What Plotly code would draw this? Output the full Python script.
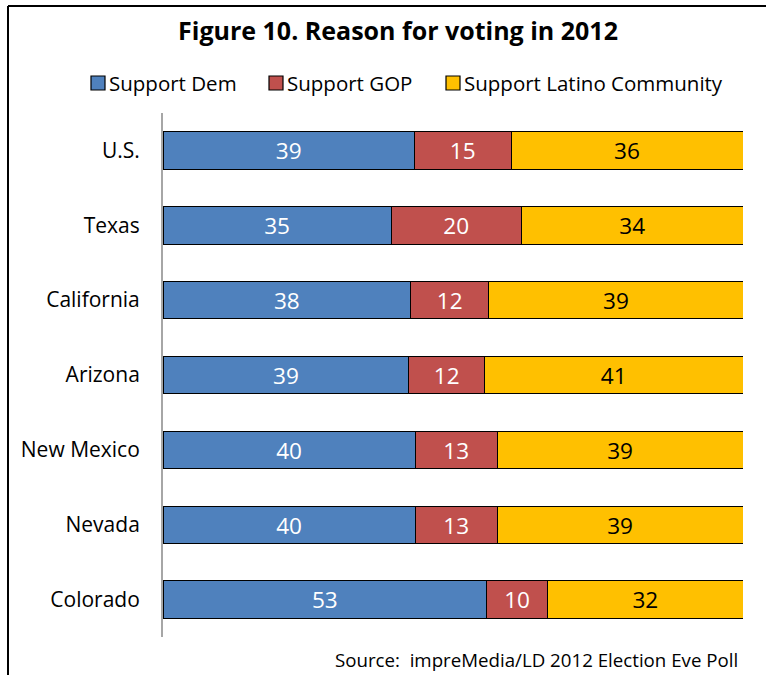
import plotly.graph_objects as go

# Reasons given by Latino voters, by state (percent of respondents)
states = ["U.S.", "Texas", "California", "Arizona", "New Mexico", "Nevada", "Colorado"]
support_dem = [39, 35, 38, 39, 40, 40, 53]
support_gop = [15, 20, 12, 12, 13, 13, 10]
support_latino = [36, 34, 39, 41, 39, 39, 32]
series_names = ["Support Dem", "Support GOP", "Support Latino Community"]

series = [
    (series_names[0], support_dem, "#4F81BD", "white"),
    (series_names[1], support_gop, "#C0504D", "white"),
    (series_names[2], support_latino, "#FFC000", "black"),
]

W, H = 766, 675
L, R, T, B = 163, 23, 113, 38
FONT = "Open Sans"

fig = go.Figure()
for name, vals, color, tcolor in series:
    fig.add_trace(go.Bar(
        name=name,
        y=states,
        x=vals,
        orientation="h",
        marker=dict(color=color, line=dict(color="black", width=1)),
        text=[str(v) for v in vals],
        textposition="inside",
        insidetextanchor="middle",
        textangle=0,
        textfont=dict(family=FONT, size=23, color=tcolor),
        hoverinfo="skip",
        showlegend=False,
    ))

pw = W - L - R
ph = H - T - B


def px_x(x):
    return (x - L) / pw


def px_y(y):
    return 1 - (y - T) / ph


# Outer frame (top and left edges)
shapes = [
    dict(type="line", xref="paper", yref="paper",
         x0=px_x(8), x1=px_x(766), y0=px_y(6), y1=px_y(6),
         line=dict(color="black", width=2)),
    dict(type="line", xref="paper", yref="paper",
         x0=px_x(8), x1=px_x(8), y0=px_y(6), y1=px_y(675),
         line=dict(color="black", width=2)),
]
annotations = [
    dict(text="Source:  impreMedia/LD 2012 Election Eve Poll",
         xref="paper", yref="paper", x=px_x(740), y=px_y(659),
         xanchor="right", yanchor="middle", showarrow=False,
         font=dict(family=FONT, size=18.7)),
]

# Legend row: coloured key squares followed by the series name
legend_left = [91, 269, 446]
for (name, _, color, _), lx in zip(series, legend_left):
    shapes.append(dict(
        type="rect", xref="paper", yref="paper",
        x0=px_x(lx), x1=px_x(lx + 14), y0=px_y(90), y1=px_y(76),
        fillcolor=color, line=dict(color="black", width=1.2),
    ))
    annotations.append(dict(
        text=name, xref="paper", yref="paper",
        x=px_x(lx + 16), y=px_y(83), xanchor="left", yanchor="middle",
        showarrow=False, font=dict(family=FONT, size=20.5, color="black"),
    ))

fig.update_layout(
    width=W,
    height=H,
    margin=dict(l=L, r=R, t=T, b=B, autoexpand=False),
    barmode="stack",
    barnorm="percent",
    bargap=0.5,
    plot_bgcolor="white",
    paper_bgcolor="white",
    font=dict(family=FONT, color="black"),
    showlegend=False,
    title=dict(
        text="<b>Figure 10. Reason for voting in 2012</b>",
        x=398 / W, xref="container", xanchor="center",
        y=1 - 31 / H, yref="container", yanchor="middle",
        font=dict(family=FONT, size=25, color="black"),
    ),
    xaxis=dict(range=[0, 100], visible=False, fixedrange=True),
    yaxis=dict(
        categoryorder="array",
        categoryarray=states,
        autorange="reversed",
        showline=True,
        linecolor="#A6A6A6",
        linewidth=2,
        showgrid=False,
        ticks="",
        ticklabelstandoff=17,
        tickfont=dict(family=FONT, size=21),
    ),
    shapes=shapes,
    annotations=annotations,
)

fig.write_html("out.html")
